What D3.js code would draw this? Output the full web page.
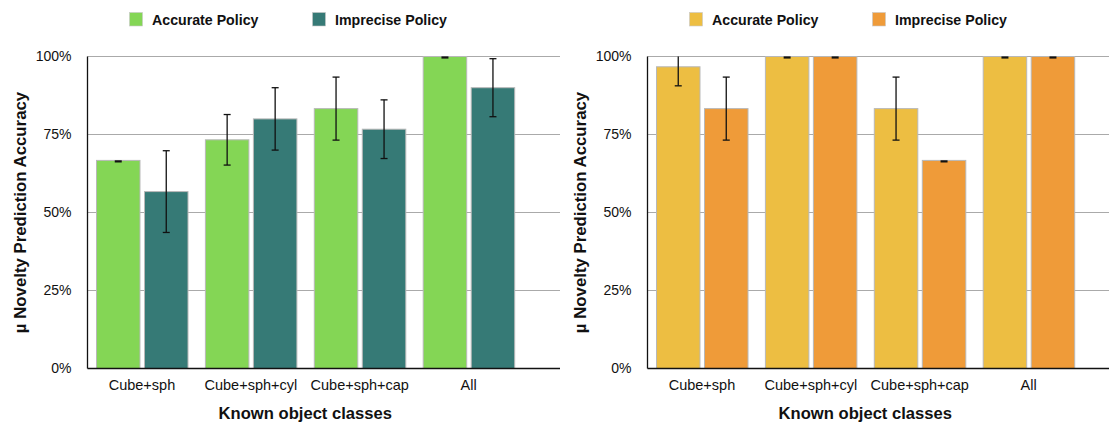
<!DOCTYPE html>
<html>
<head>
<meta charset="utf-8">
<script src="https://cdn.jsdelivr.net/npm/d3@7"></script>
<style>
  html, body { margin: 0; padding: 0; background: #fff; }
  svg { display: block; }
  text { font-family: Helvetica, Arial, "Liberation Sans", sans-serif; fill: #111; }
</style>
</head>
<body>
<svg id="chart" width="1109" height="423"></svg>
<script>
// Object-class groupings on the x axis
const categories = ["Cube+sph", "Cube+sph+cyl", "Cube+sph+cap", "All"];
const seriesNames = ["Accurate Policy", "Imprecise Policy"];
const yTicks = [0, 25, 50, 75, 100];

// Left panel: mean novelty prediction accuracy (%) and its spread
const leftAccurate = [66.7, 73.3, 83.3, 100];
const leftAccurateErr = [0, 8.1, 10.1, 0];
const leftImprecise = [56.7, 80.0, 76.7, 90.0];
const leftImpreciseErr = [13.1, 10.0, 9.4, 9.3];

// Right panel
const rightAccurate = [96.7, 100, 83.3, 100];
const rightAccurateErr = [6.1, 0, 10.1, 0];
const rightImprecise = [83.3, 100, 66.7, 100];
const rightImpreciseErr = [10.1, 0, 0, 0];

const panels = [
  { offset: 0, width: 560, colors: ["#84d655", "#367a76"],
    values: [leftAccurate, leftImprecise], errs: [leftAccurateErr, leftImpreciseErr] },
  { offset: 560, width: 549, colors: ["#edbe42", "#ef9b39"],
    values: [rightAccurate, rightImprecise], errs: [rightAccurateErr, rightImpreciseErr] }
];

const svg = d3.select("#chart");
const plotLeft = 87.5, plotTop = 56.5, plotBottom = 368.5;
const step = 108.9;

const y = d3.scaleLinear().domain([0, 100]).range([plotBottom, plotTop]);
const x = d3.scaleBand().domain(categories)
  .range([plotLeft, plotLeft + step * categories.length]).padding(0);
const xs = d3.scaleBand().domain(seriesNames)
  .range([9, 9 + 91.5]).paddingInner(0.094);

panels.forEach((p, pi) => {
  const clipId = "clip" + pi;
  svg.append("clipPath").attr("id", clipId)
    .append("rect").attr("x", 0).attr("y", 0).attr("width", p.width).attr("height", 423);

  const g = svg.append("g")
    .attr("transform", `translate(${p.offset},0)`)
    .attr("clip-path", `url(#${clipId})`);

  // horizontal grid
  g.append("g").selectAll("line").data(yTicks.filter(t => t > 0)).join("line")
    .attr("x1", plotLeft).attr("x2", p.width)
    .attr("y1", d => y(d)).attr("y2", d => y(d))
    .attr("stroke", "#aaaaaa").attr("stroke-width", 1);

  // bars
  p.values.forEach((vals, si) => {
    g.append("g").selectAll("rect").data(categories).join("rect")
      .attr("x", (c) => x(c) + xs(seriesNames[si]))
      .attr("y", (c, i) => y(vals[i]))
      .attr("width", xs.bandwidth())
      .attr("height", (c, i) => y(0) - y(vals[i]))
      .attr("fill", p.colors[si])
      .attr("stroke", "#b8b8b8").attr("stroke-width", 1);
  });

  // error bars, clipped to the 0-100% range
  p.values.forEach((vals, si) => {
    const eg = g.append("g");
    categories.forEach((c, i) => {
      const cx = x(c) + xs(seriesNames[si]) + xs.bandwidth() / 2;
      const e = p.errs[si][i];
      const hi = Math.min(100, vals[i] + e), lo = Math.max(0, vals[i] - e);
      if (e === 0) {
        eg.append("line").attr("x1", cx - 3.5).attr("x2", cx + 3.5)
          .attr("y1", y(vals[i]) + 1).attr("y2", y(vals[i]) + 1)
          .attr("stroke", "#111").attr("stroke-width", 2.2);
        return;
      }
      eg.append("line").attr("x1", cx).attr("x2", cx)
        .attr("y1", y(hi)).attr("y2", y(lo))
        .attr("stroke", "#111").attr("stroke-width", 1.3);
      [[hi, vals[i] + e <= 100], [lo, true]].forEach(([v, show]) => {
        if (!show) return;
        eg.append("line").attr("x1", cx - 3.5).attr("x2", cx + 3.5)
          .attr("y1", y(v)).attr("y2", y(v))
          .attr("stroke", "#111").attr("stroke-width", 1.3);
      });
    });
  });

  // axes lines
  g.append("line").attr("x1", plotLeft).attr("x2", plotLeft)
    .attr("y1", plotTop).attr("y2", plotBottom)
    .attr("stroke", "#111").attr("stroke-width", 1.3);
  g.append("line").attr("x1", plotLeft).attr("x2", p.width)
    .attr("y1", plotBottom).attr("y2", plotBottom)
    .attr("stroke", "#111").attr("stroke-width", 1.3);

  // y tick labels
  const yAxis = d3.axisLeft(y).tickValues(yTicks).tickFormat(d => d + "%").tickSize(0).tickPadding(16);
  const ya = g.append("g").attr("transform", `translate(${plotLeft},0)`).call(yAxis);
  ya.select(".domain").remove();
  ya.selectAll("text").style("font-size", "14px").attr("fill", "#1a1a1a")
    .style("font-family", "Helvetica, Arial, 'Liberation Sans', sans-serif");

  // x tick labels
  const xAxis = d3.axisBottom(x).tickSize(0).tickPadding(11);
  const xa = g.append("g").attr("transform", `translate(0,${plotBottom})`).call(xAxis);
  xa.select(".domain").remove();
  xa.selectAll("text").style("font-size", "14.5px").attr("fill", "#1a1a1a")
    .style("font-family", "Helvetica, Arial, 'Liberation Sans', sans-serif");

  // axis titles
  g.append("text")
    .attr("x", (plotLeft + plotLeft + step * categories.length) / 2).attr("y", 419)
    .attr("text-anchor", "middle")
    .style("font-size", "16.6px").style("font-weight", "bold")
    .text("Known object classes");
  g.append("text")
    .attr("transform", `translate(26,${(plotTop + plotBottom) / 2}) rotate(-90)`)
    .attr("text-anchor", "middle")
    .style("font-size", "16.8px").style("font-weight", "bold")
    .text("µ Novelty Prediction Accuracy");

  // legend
  const legendX = [129, 312];
  seriesNames.forEach((name, si) => {
    const lg = g.append("g").attr("transform", `translate(${legendX[si]},12)`);
    lg.append("rect").attr("x", 0.5).attr("y", 0.5).attr("width", 13).attr("height", 13.5)
      .attr("fill", p.colors[si]).attr("stroke", "#c8c8c8").attr("stroke-width", 0.6);
    lg.append("text").attr("x", 23).attr("y", 12.5)
      .style("font-size", "14.2px").style("font-weight", "bold")
      .text(name);
  });
});
</script>
</body>
</html>
